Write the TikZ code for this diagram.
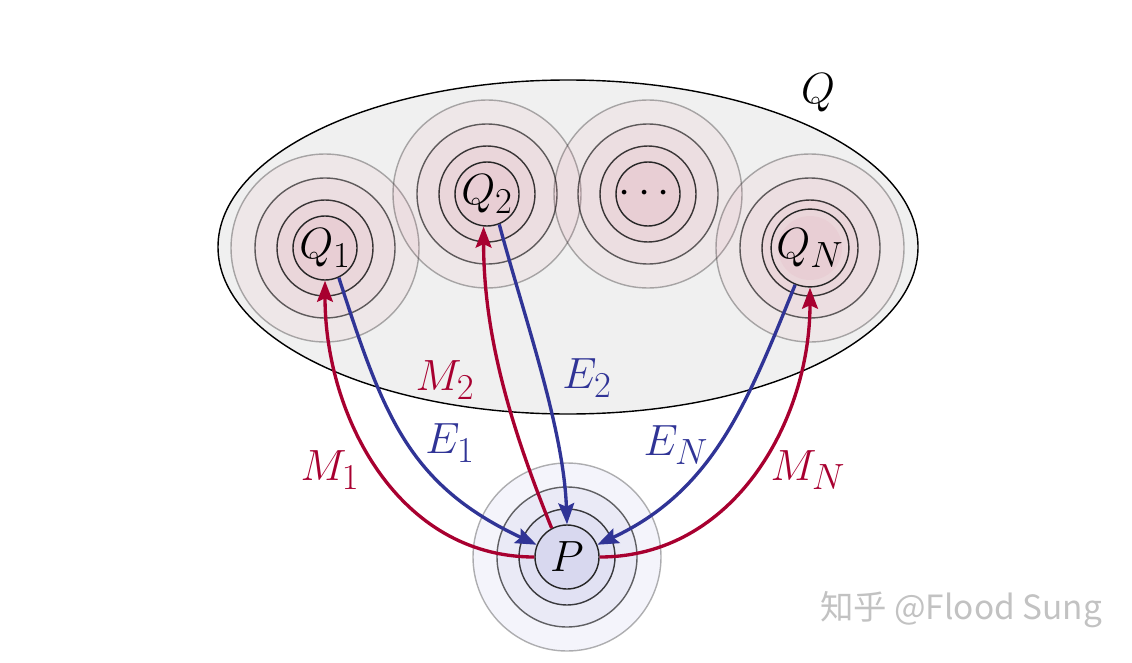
\documentclass[tikz,border=0pt]{standalone}
\usepackage{amsmath,amssymb}
\usepackage{fontspec}
\usepackage{tikz}
\usetikzlibrary{arrows.meta}
\newfontfamily\cjk{Noto Sans CJK SC}

\definecolor{msgred}{RGB}{168,0,48}
\definecolor{embblue}{RGB}{48,52,150}
\definecolor{qfill}{RGB}{215,90,120}
\definecolor{pfill}{RGB}{110,110,195}

\tikzset{
  agent/.style={circle, draw=black!85, line width=0.8pt, minimum size=1.28cm, inner sep=0pt,
                font=\fontsize{29}{32}\selectfont},
  msg/.style={msgred, line width=1.9pt, -{Stealth[length=12pt,width=9pt,inset=2pt]}},
  emb/.style={embblue, line width=1.9pt, -{Stealth[length=12pt,width=9pt,inset=2pt]}},
  lbl/.style={font=\fontsize{28}{32}\selectfont}
}

\newcommand{\rings}[3]{%
    \fill[#2, fill opacity=#3] (#1) circle (1.88);
    \fill[#2, fill opacity=#3] (#1) circle (1.40);
    \fill[#2, fill opacity=#3] (#1) circle (0.96);
    \fill[#2, fill opacity=#3] (#1) circle (0.64);
    \draw[black, draw opacity=0.3, line width=0.8pt] (#1) circle (1.88);
    \draw[black, draw opacity=0.6, line width=0.8pt] (#1) circle (1.40);
    \draw[black, draw opacity=0.75, line width=0.8pt] (#1) circle (0.96);
}

\begin{document}
\begin{tikzpicture}
    \useasboundingbox (0,0) rectangle (22.64,13.24);

    % the set Q
    \filldraw[fill=black!6, draw=black, line width=0.8pt] (11.36,8.30) ellipse (7.0 and 3.34);
    \node[lbl] (qset) at (16.36,11.38) {$Q$};

    % rings round the agents
    \rings{6.50,8.28}{qfill}{0.06}
    \rings{9.74,9.36}{qfill}{0.06}
    \rings{12.96,9.36}{qfill}{0.06}
    \rings{16.20,8.28}{qfill}{0.06}
    \rings{11.34,2.10}{pfill}{0.075}

    \node[agent] (q1) at (6.50,8.28) {$Q_1$};
    \node[agent] (q2) at (9.74,9.36) {$Q_2$};
    \node[agent] (qd) at (12.96,9.36) {$\cdots$};
    \node[agent] (qn) at (16.20,8.28) {$Q_N$};
    \node[agent] (p) at (11.34,2.10) {$P$};

    % messages and embeddings
    \draw[msg] (p.west) to[out=180, in=-90] (q1.south);
    \draw[emb] (q1.-65) to[out=-72, in=155, looseness=1.1] (p.158);
    \draw[msg] (p.118) to[out=112, in=-90, looseness=0.9] (q2.-96);
    \draw[emb] (q2.-68) to[out=-75, in=92, looseness=0.8] (p.north);
    \draw[emb] (qn.-112) to[out=-112, in=25] (p.22);
    \draw[msg] (p.east) to[out=0, in=-90] (qn.south);

    \node[lbl, text=msgred] (m1) at (6.60,3.84) {$M_1$};
    \node[lbl, text=embblue] (e1) at (9.00,4.38) {$E_1$};
    \node[lbl, text=msgred] (m2) at (8.90,5.64) {$M_2$};
    \node[lbl, text=embblue] (e2) at (11.74,5.68) {$E_2$};
    \node[lbl, text=embblue] (en) at (13.52,4.34) {$E_N$};
    \node[lbl, text=msgred] (mn) at (16.16,3.84) {$M_N$};

    \node[text=black!24, font=\cjk\fontsize{19}{22}\selectfont] (mark) at (19.22,1.04) {知乎 @Flood Sung};
\end{tikzpicture}
\end{document}
